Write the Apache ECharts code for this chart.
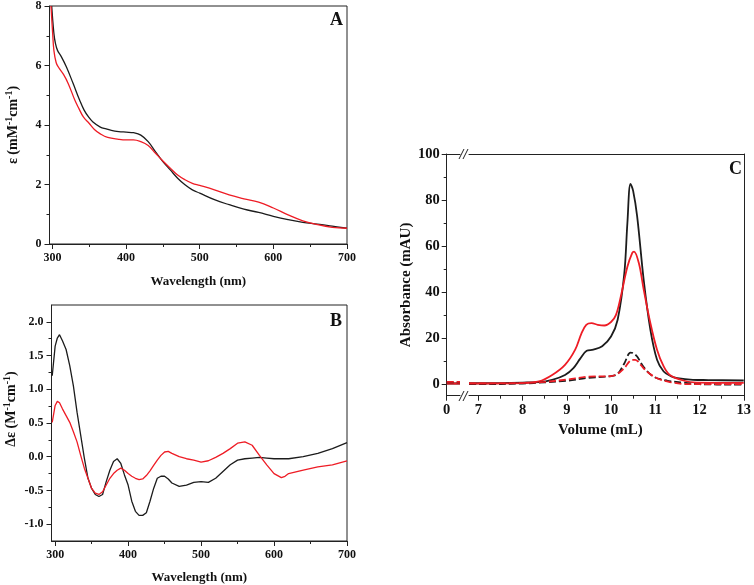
<!DOCTYPE html>
<html><head><meta charset="utf-8">
<script src="https://cdn.jsdelivr.net/npm/echarts@6/dist/echarts.min.js"></script>
<style>html,body{margin:0;padding:0;background:#fff}#c{width:754px;height:585px}</style>
</head><body><div id="c"></div>
<script>
// ---------- Panel A: absorption ----------
const aWlBlack = [299,302,304,307,312,319,328,337,343,349,355,365,373,380,390,400,410,420,430,440,450,460,470,480,490,500,520,540,560,580,600,620,640,660,680,700];
const aBlack   = [8.0,7.07,6.75,6.5,6.3,5.95,5.4,4.83,4.5,4.27,4.1,3.93,3.87,3.82,3.78,3.76,3.74,3.66,3.44,3.1,2.77,2.49,2.21,1.99,1.82,1.71,1.49,1.32,1.17,1.06,0.93,0.82,0.73,0.67,0.6,0.53];
const aWlRed   = [298,300.3,302,305,308,315,321.5,330.5,336,342,350,357,365,375,390,400,410,420,430,440,450,460,470,480,490,500,520,540,560,580,600,620,640,660,680,700];
const aRed     = [8.0,7.07,6.5,6.1,5.95,5.7,5.39,4.83,4.55,4.27,4.05,3.85,3.7,3.58,3.52,3.5,3.5,3.44,3.31,3.05,2.79,2.55,2.32,2.16,2.04,1.97,1.82,1.65,1.52,1.41,1.21,0.98,0.78,0.65,0.56,0.53];
const wlTicks = [300,400,500,600,700];
const wlMinor = [350,450,550,650];

// ---------- Panel B: CD ----------
const bWl    = [296,300,303,306,310,315,320,325,330,335,340,345,350,355,360,365,370,375,380,385,390,395,400,405,410,415,420,425,430,435,440,445,450,455,460,470,480,490,500,510,520,530,540,550,560,570,580,590,600,610,615,620,640,660,680,700];
const bBlack = [1.2,1.64,1.76,1.81,1.72,1.59,1.35,1.05,0.66,0.32,-0.02,-0.32,-0.47,-0.56,-0.59,-0.56,-0.37,-0.2,-0.07,-0.03,-0.1,-0.27,-0.42,-0.66,-0.81,-0.87,-0.87,-0.83,-0.66,-0.47,-0.32,-0.29,-0.29,-0.33,-0.39,-0.44,-0.42,-0.38,-0.37,-0.38,-0.32,-0.22,-0.12,-0.05,-0.03,-0.02,-0.01,-0.02,-0.03,-0.03,-0.03,-0.03,0.0,0.05,0.12,0.21];
const bRed   = [0.51,0.76,0.82,0.8,0.71,0.61,0.51,0.37,0.22,0.02,-0.17,-0.32,-0.47,-0.54,-0.56,-0.52,-0.42,-0.32,-0.25,-0.2,-0.17,-0.2,-0.25,-0.29,-0.32,-0.34,-0.33,-0.28,-0.21,-0.13,-0.05,0.02,0.07,0.08,0.05,0.0,-0.03,-0.05,-0.08,-0.06,-0.01,0.05,0.12,0.2,0.22,0.17,0.02,-0.12,-0.25,-0.31,-0.29,-0.25,-0.2,-0.15,-0.12,-0.06];
const bYTicks = [-1.0,-0.5,0.0,0.5,1.0,1.5,2.0];
const bYMinor = [-0.75,-0.25,0.25,0.75,1.25,1.75];

// ---------- Panel C: SEC ----------
const cLeftVol = [0, 0.3];
const cLeftBlackSolid = [0.3, 0.3];
const cLeftRedSolid   = [0.3, 0.3];
const cLeftBlackDash  = [0.8, 0.8];
const cLeftRedDash    = [1.0, 1.0];

const cVolBS = [6.79,7,8,8.37,8.67,8.96,9.15,9.3,9.45,9.6,9.8,10.0,10.15,10.3,10.37,10.44,10.5,10.59,10.74,10.89,11.04,11.19,11.35,11.5,11.85,12.2,13];
const cBS    = [0.4,0.4,0.7,0.9,1.9,4,7,11,14.5,15,16.5,20.7,28,48,70,87,84,73,45,23.6,10.6,5.5,3.5,2.6,1.9,1.8,1.6];
const cVolRS = [6.79,7,8,8.37,8.67,8.96,9.19,9.33,9.44,9.56,9.7,9.85,10.0,10.11,10.22,10.37,10.48,10.52,10.63,10.74,10.89,11.04,11.19,11.33,11.63,11.93,13];
const cRS    = [0.3,0.3,0.5,1.2,4,8.4,15,22,25.8,26.5,25.8,25.5,27,30,38,51,57,57.6,52.5,41,26.5,15,7.7,4,1.6,0.7,0.6];
const cVolBD = [6.79,7,8,8.5,9,9.5,10.0,10.15,10.3,10.44,10.5,10.59,10.74,10.96,11.26,11.63,12,13];
const cBD    = [0,0,0.3,0.8,1.5,2.8,3.5,4.5,9,13.7,13.5,12,7.4,3.3,1.6,0.7,0,-0.2];
const cVolRD = [6.79,7,8,8.5,9,9.5,10.0,10.15,10.3,10.48,10.55,10.67,10.81,11.04,11.33,11.78,13];
const cRD    = [0.3,0.3,0.5,1,2,3.3,3.5,4.5,7,10.6,10.6,8.4,5.5,2.6,0.9,0,0];
const cXTicks = [7,8,9,10,11,12,13];
const cXMinor = [7.5,8.5,9.5,10.5,11.5,12.5];
const cYTicks = [0,20,40,60,80,100];
const cYMinor = [10,30,50,70,90];

const zip = (xs, ys) => xs.map((x, i) => [x, ys[i]]);
const FONT = 'Liberation Serif';
const AX = '#222', BLACK = '#1c1c1c', RED = '#ee1c25';
const lab = (size, extra) => Object.assign({color:'#111', fontFamily:FONT, fontWeight:'bold', fontSize:size}, extra||{});

function xMain(grid, min, max, ticks, size, nsize, name, gap, margin, extra) {
  return Object.assign({
    type:'value', gridIndex:grid, min, max, position:'bottom',
    axisLine:{show:true, onZero:false, lineStyle:{color:AX, width:1}},
    axisTick:{show:true, inside:false, length:5, customValues:ticks, lineStyle:{color:AX}},
    axisLabel:{show:true, margin:margin, customValues:ticks, ...lab(size)},
    splitLine:{show:false},
    name, nameLocation:'middle', nameGap:gap, nameTextStyle:lab(nsize)
  }, extra||{});
}
function xMinor(grid, min, max, ticks) {
  return {type:'value', gridIndex:grid, min, max, position:'bottom',
    axisLine:{show:false, onZero:false}, axisTick:{show:true, length:3, customValues:ticks, lineStyle:{color:AX}},
    axisLabel:{show:false}, splitLine:{show:false}};
}
function xTop(grid, min, max) {
  return {type:'value', gridIndex:grid, min, max, position:'top',
    axisLine:{show:true, onZero:false, lineStyle:{color:AX, width:1}}, axisTick:{show:false},
    axisLabel:{show:false}, splitLine:{show:false}};
}
function yMinor(grid, min, max, ticks) {
  return {type:'value', gridIndex:grid, min, max, position:'left',
    axisLine:{show:false, onZero:false}, axisTick:{show:true, length:3, customValues:ticks, lineStyle:{color:AX}},
    axisLabel:{show:false}, splitLine:{show:false}};
}

const richSup = (size) => ({
  a:{fontFamily:FONT, fontWeight:'bold', fontSize:size, color:'#111', lineHeight:size+4},
  s:{fontFamily:FONT, fontWeight:'bold', fontSize:size-4, color:'#111', verticalAlign:'top', lineHeight:size+4}
});

const line = (name, x, y, data, color, width, dashed, smooth) => ({
  type:'line', name, xAxisIndex:x, yAxisIndex:y, data, showSymbol:false, symbol:'none',
  smooth: smooth, lineStyle:{color, width, type: dashed ? [7,3] : 'solid'}, silent:true, z:3
});

const chart = echarts.init(document.getElementById('c'), null, {renderer:'canvas'});
chart.setOption({
  animation:false,
  backgroundColor:'#fff',
  title:[
    {text:'A', left:330, top:11, padding:0, textStyle:lab(18)},
    {text:'B', left:330, top:312, padding:0, textStyle:lab(18)},
    {text:'C', left:729, top:160, padding:0, textStyle:lab(18)}
  ],
  grid:[
    {left:49.5, top:5, width:297.5, height:239, show:true, borderColor:AX, borderWidth:1, backgroundColor:'transparent'},
    {left:51.5, top:305, width:295.5, height:238, show:true, borderColor:AX, borderWidth:1, backgroundColor:'transparent'},
    {left:446.7, top:154, width:13.3, height:241.7},
    {left:469, top:154, width:277.7, height:241.7}
  ],
  xAxis:[
    xMain(0, 296, 700, wlTicks, 12, 13, 'Wavelength (nm)', 31, 8),   //0
    xMinor(0, 296, 700, wlMinor),                                     //1
    xMain(1, 295, 700, wlTicks, 12, 13, 'Wavelength (nm)', 30, 8),   //2
    xMinor(1, 295, 700, wlMinor),                                     //3
    xMain(2, 0, 0.3, [0], 14.5, 15, '', 0, 7),                        //4
    xTop(2, 0, 0.3),                                                  //5
    xMain(3, 6.79, 13, cXTicks, 14.5, 15, 'Volume (mL)', 27, 7, {nameTextStyle:lab(15, {padding:[0,12,0,0]})}), //6
    xMinor(3, 6.79, 13, cXMinor),                                     //7
    xTop(3, 6.79, 13)                                                 //8
  ],
  yAxis:[
    { type:'value', gridIndex:0, min:0, max:8, interval:2, position:'left',
      axisLine:{show:true, lineStyle:{color:AX}},
      axisTick:{show:true, length:5, lineStyle:{color:AX}},
      minorTick:{show:true, splitNumber:2, length:3, lineStyle:{color:AX}},
      axisLabel:{margin:8, ...lab(12)}, splitLine:{show:false}, minorSplitLine:{show:false},
      name:'{a|ε (mM}{s|-1}{a|cm}{s|-1}{a|)}', nameLocation:'middle', nameGap:27, nameRotate:90,
      nameTextStyle:{rich:richSup(14)} },                       //0
    { type:'value', gridIndex:1, min:-1.25, max:2.25, position:'left',
      axisLine:{show:true, onZero:false, lineStyle:{color:AX}},
      axisTick:{show:true, length:5, customValues:bYTicks, lineStyle:{color:AX}},
      axisLabel:{margin:8, customValues:bYTicks, formatter:v => v.toFixed(1), ...lab(12)}, splitLine:{show:false},
      name:'{a|Δε (M}{s|-1}{a|cm}{s|-1}{a|)}', nameLocation:'middle', nameGap:31, nameRotate:90,
      nameTextStyle:{rich:richSup(14), padding:[0,0,0,28]} },   //1
    yMinor(1, -1.25, 2.25, bYMinor),                            //2
    { type:'value', gridIndex:2, min:-5, max:100, position:'left',
      axisLine:{show:true, onZero:false, lineStyle:{color:AX}},
      axisTick:{show:true, length:5, customValues:cYTicks, lineStyle:{color:AX}},
      axisLabel:{margin:7, customValues:cYTicks, ...lab(14.5)}, splitLine:{show:false},
      name:'Absorbance (mAU)', nameLocation:'middle', nameGap:32, nameRotate:90,
      nameTextStyle:lab(15, {padding:[0,20,0,0]}) },            //3
    yMinor(2, -5, 100, cYMinor),                                //4
    { type:'value', gridIndex:3, min:-5, max:100, position:'right',
      axisLine:{show:true, onZero:false, lineStyle:{color:AX}}, axisTick:{show:false},
      axisLabel:{show:false}, splitLine:{show:false} }          //5
  ],
  graphic:[
    {type:'line', shape:{x1:459, y1:159, x2:464, y2:149}, style:{stroke:AX, lineWidth:1}},
    {type:'line', shape:{x1:463, y1:159, x2:468, y2:149}, style:{stroke:AX, lineWidth:1}},
    {type:'line', shape:{x1:459, y1:401, x2:464, y2:391}, style:{stroke:AX, lineWidth:1}},
    {type:'line', shape:{x1:463, y1:401, x2:468, y2:391}, style:{stroke:AX, lineWidth:1}}
  ],
  series:[
    line('A black', 0, 0, zip(aWlBlack, aBlack), BLACK, 1.3, false, 0.4),
    line('A red', 0, 0, zip(aWlRed, aRed), RED, 1.3, false, 0.4),
    line('B black', 2, 1, zip(bWl, bBlack), BLACK, 1.3, false, false),
    line('B red', 2, 1, zip(bWl, bRed), RED, 1.3, false, false),
    line('C left black', 4, 3, zip(cLeftVol, cLeftBlackSolid), BLACK, 1.8, false, false),
    line('C left red', 4, 3, zip(cLeftVol, cLeftRedSolid), RED, 1.8, false, false),
    line('C left black dash', 4, 3, zip(cLeftVol, cLeftBlackDash), BLACK, 1.8, true, false),
    line('C left red dash', 4, 3, zip(cLeftVol, cLeftRedDash), RED, 1.8, true, false),
    line('C black', 6, 5, zip(cVolBS, cBS), BLACK, 1.8, false, 0.35),
    line('C red', 6, 5, zip(cVolRS, cRS), RED, 1.8, false, 0.35),
    line('C black dash', 6, 5, zip(cVolBD, cBD), BLACK, 1.8, true, 0.35),
    line('C red dash', 6, 5, zip(cVolRD, cRD), RED, 1.8, true, 0.35)
  ]
});
</script></body></html>
